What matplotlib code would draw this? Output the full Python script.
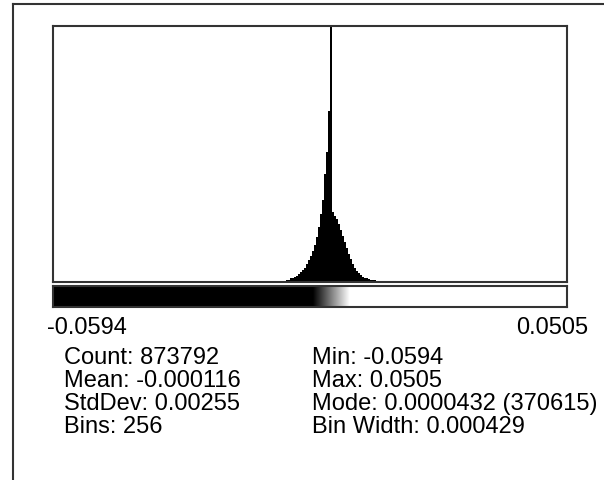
import numpy as np
import matplotlib.pyplot as plt
from matplotlib.lines import Line2D

plt.rcParams['font.family'] = ['Liberation Sans', 'DejaVu Sans']

# histogram range and bins (ImageJ 32-bit histogram)
hmin, hmax = -0.0594, 0.0505
nbins = 256
first_bin = 113
# counts of the visible bins (bin 138 is the mode)
visible_counts = [350, 350, 530, 710, 880, 1240, 1410, 1940, 2120, 2820,
                  3530, 4240, 4940, 6350, 7770, 9180, 10940, 13060, 15890, 19420,
                  24000, 28950, 38120, 45890, 60360, 370615,
                  24710, 23300, 22240, 20470, 18360, 16240, 14120, 12000, 9880, 8120,
                  6350, 4940, 3880, 3180, 2470, 1940, 1590, 1240, 1060, 880,
                  710, 710]
# display range of the LUT bar
disp_min, disp_max = -0.0038, 0.0041

col1 = ["Count: 873792", "Mean: -0.000116", "StdDev: 0.00255", "Bins: 256"]
col2 = ["Min: -0.0594", "Max: 0.0505", "Mode: 0.0000432 (370615)", "Bin Width: 0.000429"]

counts = np.zeros(nbins)
counts[first_bin:first_bin + len(visible_counts)] = visible_counts
edges = np.linspace(hmin, hmax, nbins + 1)

# ImageJ clips the mode bin when it dwarfs the rest
mode = int(np.argmax(counts))
second = np.max(np.delete(counts, mode))
ytop = counts[mode]
if ytop > 2 * second:
    ytop = 1.5 * second

W, H = 604, 481
fig = plt.figure(figsize=(W / 100, H / 100), dpi=100)
frame = '#333333'

ax = fig.add_axes([53 / W, 1 - 283 / H, 514 / W, 256 / H])
ax.stairs(counts, edges, fill=True, color='black', linewidth=0)
ax.set_xlim(hmin, hmax)
ax.set_ylim(0, ytop)
ax.set_xticks([])
ax.set_yticks([])
for s in ax.spines.values():
    s.set_color(frame)
    s.set_linewidth(1.5)

bar = fig.add_axes([53 / W, 1 - 308 / H, 514 / W, 21 / H])
ramp = np.linspace(hmin, hmax, 514)[None, :]
bar.imshow(ramp, cmap='gray', vmin=disp_min, vmax=disp_max, aspect='auto',
           extent=[hmin, hmax, 0, 1], interpolation='bilinear')
bar.set_xticks([])
bar.set_yticks([])
for s in bar.spines.values():
    s.set_color(frame)
    s.set_linewidth(1.5)

# outer window border
fig.add_artist(Line2D([13 / W, 13 / W], [0, 1 - 5 / H], color=frame, lw=1.5))
fig.add_artist(Line2D([13 / W, 1], [1 - 5 / H, 1 - 5 / H], color=frame, lw=1.5))

fs = 17
fig.text(47 / W, 1 - 334 / H, "%.4f" % hmin, fontsize=fs, va='baseline', ha='left')
fig.text(588 / W, 1 - 334 / H, "%.4f" % hmax, fontsize=fs, va='baseline', ha='right')
for i, (a, b) in enumerate(zip(col1, col2)):
    y = 1 - (364 + 23 * i) / H
    fig.text(64 / W, y, a, fontsize=fs, va='baseline')
    fig.text(312 / W, y, b, fontsize=fs, va='baseline')

fig.savefig("out.png", dpi=100)
